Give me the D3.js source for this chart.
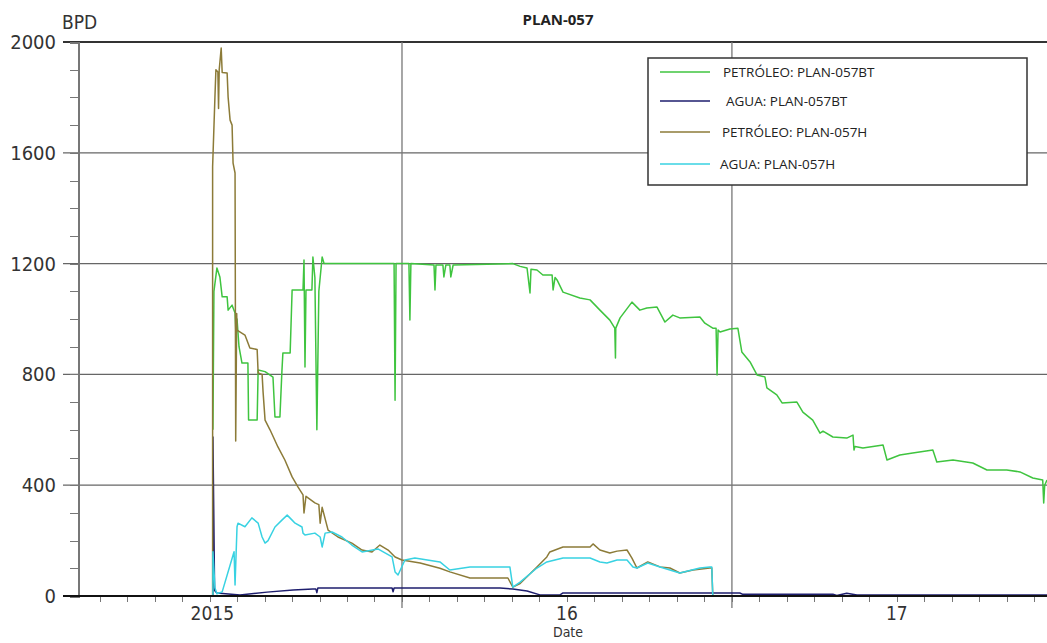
<!DOCTYPE html>
<meta charset="utf-8">
<style>
body { margin: 0; background: #fff; }
.tick-lab { font-family: "Liberation Sans Narrow", "Arial Narrow", "DejaVu Sans Condensed", sans-serif; fill: #333; }
.legend text { font-family: "Open Sans", sans-serif; font-size: 13.5px; fill: #222; }
.axis path, .axis line { stroke: #777; shape-rendering: crispEdges; }
</style>
<body>
<script src="https://cdn.jsdelivr.net/npm/d3@7"></script>
<script>

// decimal years, BPD
var petroleoBT = [[2015.427,600],[2015.430,1100],[2015.439,1184],[2015.448,1152],[2015.455,1080],[2015.470,1080],[2015.473,1032],[2015.485,1050],[2015.494,1022],[2015.497,940],[2015.500,1000],[2015.506,900],[2015.515,841],[2015.533,841],[2015.535,635],[2015.561,635],[2015.564,816],[2015.585,810],[2015.609,790],[2015.615,646],[2015.630,646],[2015.636,810],[2015.639,877],[2015.661,877],[2015.667,1105],[2015.700,1105],[2015.703,1213],[2015.706,827],[2015.709,1105],[2015.727,1105],[2015.730,1224],[2015.736,1150],[2015.742,600],[2015.748,1100],[2015.758,1224],[2015.764,1200],[2015.976,1200],[2015.979,707],[2015.982,1200],[2016.021,1200],[2016.024,996],[2016.027,1200],[2016.097,1195],[2016.100,1105],[2016.103,1195],[2016.124,1195],[2016.127,1152],[2016.133,1195],[2016.145,1195],[2016.148,1152],[2016.155,1195],[2016.336,1200],[2016.358,1190],[2016.379,1184],[2016.388,1094],[2016.391,1180],[2016.409,1177],[2016.427,1159],[2016.455,1159],[2016.458,1105],[2016.464,1150],[2016.470,1141],[2016.488,1097],[2016.539,1076],[2016.570,1069],[2016.600,1032],[2016.630,996],[2016.645,967],[2016.647,859],[2016.648,967],[2016.661,1004],[2016.697,1061],[2016.721,1032],[2016.742,1040],[2016.773,1043],[2016.797,989],[2016.821,1014],[2016.842,1004],[2016.903,1007],[2016.918,985],[2016.942,967],[2016.952,967],[2016.955,798],[2016.958,960],[2016.964,953],[2016.994,964],[2017.018,967],[2017.030,881],[2017.055,845],[2017.076,798],[2017.100,791],[2017.106,751],[2017.136,726],[2017.152,697],[2017.197,700],[2017.215,664],[2017.245,635],[2017.267,588],[2017.276,595],[2017.306,574],[2017.348,570],[2017.367,581],[2017.370,527],[2017.373,540],[2017.397,534],[2017.458,545],[2017.470,491],[2017.509,509],[2017.548,516],[2017.609,527],[2017.621,484],[2017.670,491],[2017.730,480],[2017.773,455],[2017.833,455],[2017.873,448],[2017.912,426],[2017.942,419],[2017.945,336],[2017.948,400],[2017.955,419]];

var aguaBT = [[2015.427,0],[2015.427,574],[2015.432,20],[2015.439,11],[2015.509,4],[2015.591,14],[2015.670,22],[2015.730,25],[2015.739,25],[2015.742,12],[2015.745,29],[2015.970,29],[2015.973,15],[2015.976,29],[2016.297,29],[2016.336,25],[2016.379,18],[2016.418,4],[2016.479,4],[2016.488,11],[2017.003,11],[2017.024,11],[2017.033,6],[2017.306,6],[2017.318,2],[2017.348,10],[2017.379,4],[2017.955,4]];

var petroleoH = [[2015.426,0],[2015.426,1550],[2015.433,1800],[2015.436,1900],[2015.442,1892],[2015.444,1760],[2015.446,1900],[2015.452,1978],[2015.455,1890],[2015.470,1888],[2015.473,1801],[2015.479,1718],[2015.485,1700],[2015.488,1563],[2015.494,1527],[2015.496,560],[2015.499,1020],[2015.500,960],[2015.524,942],[2015.539,895],[2015.561,890],[2015.564,805],[2015.576,800],[2015.579,736],[2015.585,635],[2015.600,600],[2015.624,538],[2015.645,491],[2015.667,430],[2015.685,393],[2015.700,365],[2015.703,300],[2015.709,360],[2015.736,336],[2015.748,330],[2015.752,263],[2015.758,320],[2015.776,238],[2015.806,213],[2015.848,191],[2015.879,166],[2015.909,159],[2015.933,184],[2015.958,166],[2015.979,141],[2016.000,130],[2016.055,119],[2016.115,100],[2016.145,87],[2016.206,65],[2016.321,65],[2016.336,32],[2016.358,45],[2016.409,105],[2016.439,141],[2016.448,159],[2016.488,177],[2016.570,177],[2016.579,188],[2016.600,166],[2016.630,155],[2016.652,162],[2016.682,166],[2016.697,137],[2016.712,101],[2016.745,123],[2016.782,105],[2016.812,101],[2016.842,83],[2016.882,94],[2016.933,101],[2016.939,101],[2016.942,0]];

var aguaH = [[2015.427,0],[2015.427,160],[2015.433,30],[2015.439,8],[2015.455,15],[2015.491,160],[2015.494,40],[2015.500,250],[2015.503,263],[2015.524,250],[2015.545,282],[2015.564,263],[2015.576,213],[2015.585,191],[2015.594,200],[2015.615,249],[2015.636,274],[2015.652,292],[2015.667,274],[2015.676,263],[2015.697,249],[2015.700,227],[2015.706,220],[2015.736,227],[2015.752,213],[2015.758,177],[2015.767,227],[2015.788,231],[2015.818,213],[2015.848,184],[2015.879,159],[2015.927,170],[2015.970,141],[2015.979,87],[2015.988,76],[2016.009,130],[2016.039,137],[2016.115,123],[2016.145,94],[2016.206,105],[2016.297,105],[2016.327,105],[2016.336,32],[2016.358,50],[2016.409,101],[2016.439,123],[2016.488,137],[2016.570,137],[2016.600,123],[2016.621,119],[2016.652,130],[2016.682,130],[2016.700,105],[2016.712,101],[2016.745,119],[2016.782,105],[2016.842,83],[2016.903,101],[2016.933,105],[2016.939,105],[2016.942,0]];

var yTicks = [0, 400, 800, 1200, 1600, 2000];
var yearLines = [2016, 2017];
var xLabels = [[2015.425, "2015"], [2016.5, "16"], [2017.5, "17"]];

var series = [
  {name: "PETRÓLEO: PLAN-057BT", data: petroleoBT, color: "#3fc43f"},
  {name: "AGUA: PLAN-057BT", data: aguaBT, color: "#1e1e6e"},
  {name: "PETRÓLEO: PLAN-057H", data: petroleoH, color: "#8c7b38"},
  {name: "AGUA: PLAN-057H", data: aguaH, color: "#38d2e2"}
];

var W = 1047, H = 643;
var plot = {left: 78, right: 1047, top: 42, bottom: 596};

var x = d3.scaleLinear().domain([2015.018, 2017.955]).range([plot.left, plot.right]);
var y = d3.scaleLinear().domain([0, 2000]).range([plot.bottom, plot.top]);

var svg = d3.select("body").append("svg")
  .attr("width", W)
  .attr("height", H);

// horizontal grid
svg.append("g").selectAll("line")
  .data(yTicks.filter(function(d){ return d > 0; }))
  .enter().append("line")
    .attr("x1", 63).attr("x2", plot.right)
    .attr("y1", function(d){ return y(d); })
    .attr("y2", function(d){ return y(d); })
    .attr("stroke", function(d){ return d == 2000 ? "#333" : "#666"; })
    .attr("stroke-width", function(d){ return d == 2000 ? 2 : 1.3; });

// vertical year lines
svg.append("g").selectAll("line")
  .data(yearLines)
  .enter().append("line")
    .attr("x1", function(d){ return x(d); })
    .attr("x2", function(d){ return x(d); })
    .attr("y1", plot.top).attr("y2", plot.bottom + 12)
    .attr("stroke", "#777")
    .attr("stroke-width", 1.3);

// y axis minor ticks
var yAxis = svg.append("g").attr("class", "axis")
  .attr("transform", "translate(" + plot.left + ",0)")
  .call(d3.axisLeft(y).tickValues(d3.range(0, 2001, 100)).tickSize(8).tickFormat(""));
yAxis.select(".domain").attr("stroke", "#888").attr("stroke-width", 2);

// x axis month ticks
var months = d3.range(2015 + 1/12, 2017.96, 1/12);
var xAxis = svg.append("g").attr("class", "axis")
  .attr("transform", "translate(0," + plot.bottom + ")")
  .call(d3.axisBottom(x).tickValues(months).tickSize(6).tickFormat(""));
xAxis.select(".domain").remove();

// lines
var line = d3.line()
  .x(function(d){ return x(d[0]); })
  .y(function(d){ return y(d[1]); });

svg.append("g").selectAll("path")
  .data(series)
  .enter().append("path")
    .attr("d", function(d){ return line(d.data); })
    .attr("fill", "none")
    .attr("stroke", function(d){ return d.color; })
    .attr("stroke-width", 1.5)
    .attr("stroke-linejoin", "round");

// zero line
svg.append("line")
  .attr("x1", 63).attr("x2", plot.right)
  .attr("y1", y(0)).attr("y2", y(0))
  .attr("stroke", "#111").attr("stroke-width", 2.2);

// y labels
svg.append("g").selectAll("text")
  .data(yTicks)
  .enter().append("text")
    .attr("class", "tick-lab")
    .attr("x", 56)
    .attr("y", function(d){ return y(d) + 7; })
    .attr("text-anchor", "end")
    .style("font-size", "20px")
    .text(function(d){ return d; });

// x labels
svg.append("g").selectAll("text")
  .data(xLabels)
  .enter().append("text")
    .attr("class", "tick-lab")
    .attr("x", function(d){ return x(d[0]); })
    .attr("y", 620)
    .attr("text-anchor", "middle")
    .style("font-size", "19px")
    .text(function(d){ return d[1]; });

svg.append("text").attr("class", "tick-lab")
  .attr("x", 568).attr("y", 637)
  .attr("text-anchor", "middle")
  .style("font-size", "14px")
  .text("Date");

svg.append("text").attr("class", "tick-lab")
  .attr("x", 62).attr("y", 29)
  .style("font-size", "19px")
  .text("BPD");

svg.append("text")
  .attr("x", 558).attr("y", 25)
  .attr("text-anchor", "middle")
  .style("font-family", "'Open Sans', sans-serif")
  .style("font-weight", "bold")
  .style("font-size", "15px")
  .style("fill", "#222")
  .text("PLAN-057");

// legend
var legend = svg.append("g").attr("class", "legend");
legend.append("rect")
  .attr("x", 648).attr("y", 58)
  .attr("width", 379).attr("height", 127)
  .attr("fill", "#fff")
  .attr("stroke", "#333")
  .attr("stroke-width", 1.5);

var legY = [72, 101, 132, 164];
var legTextX = [723, 726, 722, 720];
var item = legend.selectAll("g.item")
  .data(series)
  .enter().append("g").attr("class", "item");
item.append("line")
  .attr("x1", 660).attr("x2", 710)
  .attr("y1", function(d, i){ return legY[i]; })
  .attr("y2", function(d, i){ return legY[i]; })
  .attr("stroke", function(d){ return d.color; })
  .attr("stroke-width", 1.5);
item.append("text")
  .attr("x", function(d, i){ return legTextX[i]; })
  .attr("y", function(d, i){ return legY[i] + 5; })
  .text(function(d){ return d.name; });

</script>
